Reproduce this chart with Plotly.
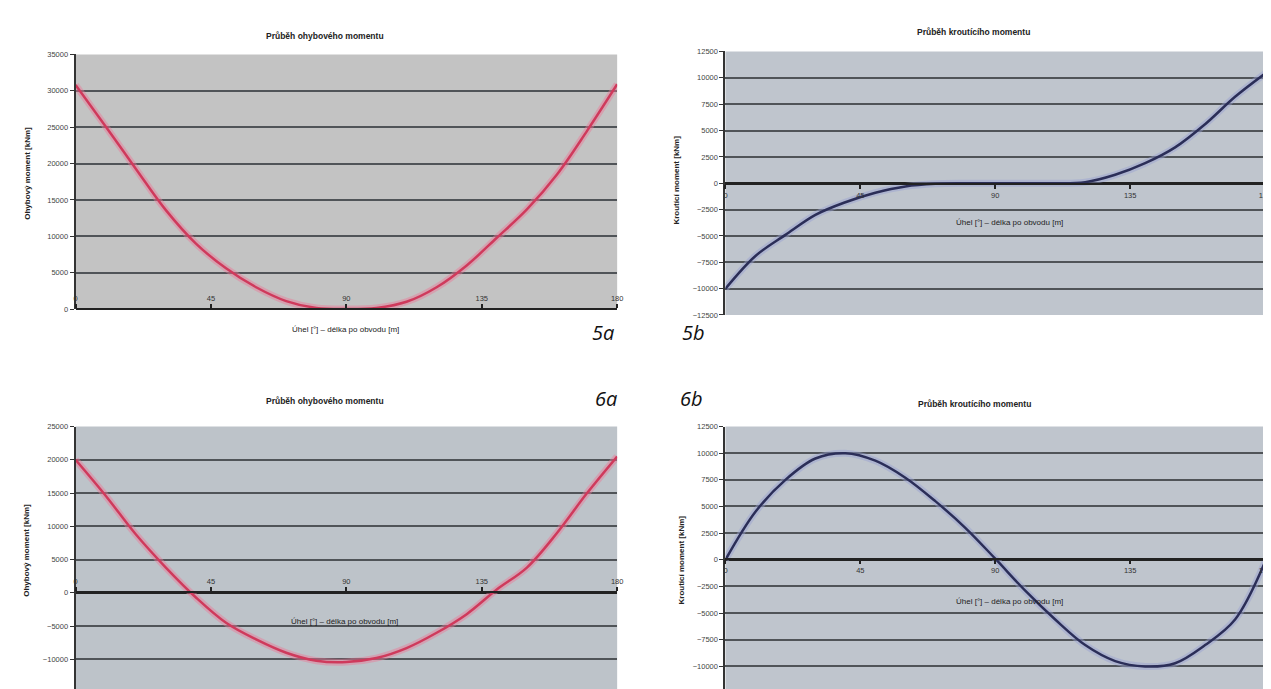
import plotly.graph_objects as go

# ---- data ----
angles = [0, 10, 20, 30, 40, 50, 60, 70, 80, 90, 100, 110, 120, 130, 140, 150, 160, 170, 180]

moment_5a = [30800, 25100, 19300, 13600, 9000, 5600, 3000, 1100, 150, 0,
             150, 1000, 3000, 6000, 9800, 13700, 18500, 24500, 30900]
moment_5b = [-10000, -6900, -4900, -3000, -1800, -900, -300, -50, 0, 0,
             0, 0, 100, 800, 1900, 3400, 5600, 8200, 10400]
moment_6a = [20000, 14600, 8800, 3800, -700, -4500, -7000, -9000, -10200, -10400,
             -9800, -8300, -6000, -3200, 500, 3800, 9000, 15000, 20500]
moment_6b = [0, 4500, 7500, 9500, 10000, 9300, 7700, 5500, 3000, 100,
             -2900, -5600, -8000, -9500, -10000, -9700, -8000, -5600, -200]

x_ticks = [0, 45, 90, 135, 180]
x_tick_text = ["0", "45", "90", "135", "180"]

title_a = "Průběh ohybového momentu"
title_b = "Průběh kroutícího momentu"
ytitle_a = "Ohybový moment [kNm]"
ytitle_b = "Kroutící moment [kNm]"
xtitle = "Úhel [°] – délka po obvodu [m]"
panel_labels = ["5a", "5b", "6a", "6b"]

W, H = 1271, 689
def px(x):
    return x / W
def py(y):
    return 1 - y / H

FONT = "Liberation Sans, Arial, sans-serif"
GRID = "#505458"

fig = go.Figure()

panels = [
    dict(v=moment_5a, c="#cf3a5c", h="rgba(235,120,150,0.45)", xd=(66, 611), yd=(43, 301),
         yr=[0, 35000], dt=5000, zero=301, above=True, bg="#c3c3c3"),
    dict(v=moment_5b, c="#2b2e58", h="rgba(150,160,210,0.45)", xd=(720, 1263), yd=(40, 307),
         yr=[-12500, 12500], dt=2500, zero=174, above=False, bg="#bfc5cd"),
    dict(v=moment_6a, c="#cf3a5c", h="rgba(235,120,150,0.45)", xd=(66, 611), yd=(420, 689),
         yr=[-14900, 25000], dt=5000, zero=588, above=True, bg="#bdc3c9"),
    dict(v=moment_6b, c="#2b2e58", h="rgba(150,160,210,0.45)", xd=(720, 1263), yd=(420, 689),
         yr=[-12400, 12500], dt=2500, zero=554, above=False, bg="#bfc5cd"),
]

for i, p in enumerate(panels, start=1):
    xa = "x" if i == 1 else f"x{i}"
    ya = "y" if i == 1 else f"y{i}"
    fig.add_trace(go.Scatter(x=angles, y=p["v"], mode="lines", line=dict(color=p["h"], width=7, shape="spline"),
                             xaxis=xa, yaxis=ya, showlegend=False, hoverinfo="skip"))
    fig.add_trace(go.Scatter(x=angles, y=p["v"], mode="lines", line=dict(color=p["c"], width=2.5, shape="spline"),
                             xaxis=xa, yaxis=ya, showlegend=False))
    xkey = "xaxis" if i == 1 else f"xaxis{i}"
    ykey = "yaxis" if i == 1 else f"yaxis{i}"
    fig.update_layout({
        xkey: dict(domain=[px(p["xd"][0]), px(p["xd"][1])], range=[0, 180], anchor="free",
                   position=max(0, py(p["zero"])), side="top" if p["above"] else "bottom",
                   showgrid=False, zeroline=False, ticklabeloverflow="allow",
                   showline=True, linecolor="#222", linewidth=2,
                   tickvals=x_ticks, ticktext=x_tick_text, ticks="outside", ticklen=4,
                   tickcolor="#222", tickwidth=2,
                   tickfont=dict(size=7.5, color="#333", family=FONT)),
        ykey: dict(domain=[max(0, py(p["yd"][1])), py(p["yd"][0])], range=p["yr"], anchor=xa,
                   dtick=p["dt"], tick0=0, tickformat="d", showgrid=True, gridcolor=GRID, gridwidth=2,
                   zeroline=True, zerolinecolor="#222", zerolinewidth=2,
                   showline=True, linecolor="#333", linewidth=2, ticks="outside", ticklen=4,
                   tickcolor="#333", tickfont=dict(size=7.5, color="#444", family=FONT)),
    })
    fig.add_shape(type="rect", xref="paper", yref="paper", x0=px(p["xd"][0]), x1=px(p["xd"][1]),
                  y0=max(0, py(p["yd"][1])), y1=py(p["yd"][0]), fillcolor=p["bg"], line=dict(width=0),
                  layer="below")

ann = []
def A(text, x, y, size=8, bold=False, angle=0, color="#222"):
    t = f"<b>{text}</b>" if bold else text
    ann.append(dict(text=t, x=px(x), y=py(y), xref="paper", yref="paper", showarrow=False,
                    textangle=angle, font=dict(size=size, family=FONT, color=color),
                    xanchor="center", yanchor="middle"))

A(title_a, 317, 24, size=8.5, bold=True)
A(title_b, 970, 20, size=8.5, bold=True)
A(title_a, 317, 394, size=8.5, bold=True)
A(title_b, 971, 397, size=8.5, bold=True)

A(xtitle, 338, 322, size=8)
A(xtitle, 1006, 213, size=8)
A(xtitle, 337, 618, size=8)
A(xtitle, 1006, 597, size=8)

A(ytitle_a, 18, 163, size=8, bold=True, angle=-90)
A(ytitle_b, 671, 170, size=8, bold=True, angle=-90)
A(ytitle_a, 17, 545, size=8, bold=True, angle=-90)
A(ytitle_b, 676, 555, size=8, bold=True, angle=-90)

for lab, (x, y) in zip(panel_labels, [(597, 325), (688, 325), (600, 392), (686, 392)]):
    ann.append(dict(text=f"<i>{lab}</i>", x=px(x), y=py(y), xref="paper", yref="paper", showarrow=False,
                    font=dict(size=20, family="Open Sans, Liberation Sans, sans-serif", color="#111"),
                    xanchor="center", yanchor="middle"))

fig.update_layout(width=W, height=H, margin=dict(l=0, r=0, t=0, b=0),
                  paper_bgcolor="white", plot_bgcolor="rgba(0,0,0,0)",
                  annotations=ann, showlegend=False)

fig.write_html("out.html")
